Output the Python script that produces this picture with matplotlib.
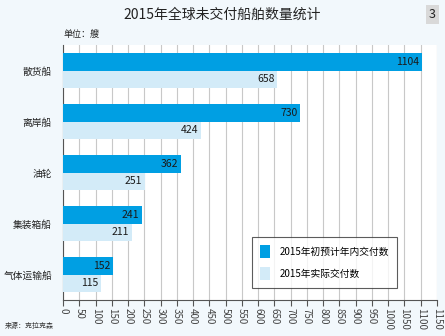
import matplotlib
matplotlib.use("Agg")
import matplotlib.pyplot as plt
import numpy as np

plt.rcParams['font.family'] = ['Noto Sans CJK SC', 'DejaVu Sans']

categories = ["散货船", "离岸船", "油轮", "集装箱船", "气体运输船"]
planned = [1104, 730, 362, 241, 152]
actual = [658, 424, 251, 211, 115]
series_names = ["2015年初预计年内交付数", "2015年实际交付数"]
xticks = list(range(0, 1151, 50))

DARK = "#009fe3"
LIGHT = "#d3ebf8"
BG = "#f2f8fc"

fig = plt.figure(figsize=(4.45, 3.36), dpi=100, facecolor=BG)
ax = fig.add_axes([0.142, 0.107, 0.84, 0.759])
ax.set_facecolor("white")

y = np.arange(len(categories))
h = 0.35
b1 = ax.barh(y - h / 2, planned, height=h, color=DARK, label=series_names[0], zorder=3)
b2 = ax.barh(y + h / 2, actual, height=h, color=LIGHT, label=series_names[1], zorder=3)

# value labels sit inside the bar ends
for bars, vals in [(b1, planned), (b2, actual)]:
    for rect, v in zip(bars, vals):
        ax.text(v - 8, rect.get_y() + rect.get_height() / 2, str(v),
                ha="right", va="center", fontsize=7.5, color="#1a1a1a", zorder=4)

ax.set_xlim(0, 1150)
ax.set_ylim(len(categories) - 0.5, -0.5)
ax.set_xticks(xticks)
ax.set_xticklabels([str(t) for t in xticks], rotation=-90, fontsize=7, color="#444444")
ax.set_yticks(y)
ax.set_yticklabels(categories, fontsize=7, color="#222222")
ax.tick_params(axis="y", length=0, pad=8)
ax.tick_params(axis="x", length=4, color="#555555", pad=2)
ax.grid(axis="x", color="#c8c8c8", linewidth=0.8, zorder=0)

for s in ["top", "right"]:
    ax.spines[s].set_visible(False)
ax.spines["left"].set_color("#555555")
ax.spines["bottom"].set_color("#555555")

leg = ax.legend(loc="lower right", bbox_to_anchor=(0.905, 0.03), fontsize=7,
                frameon=True, fancybox=False, edgecolor="#333333",
                handlelength=1.0, handleheight=1.6, labelspacing=1.0,
                borderpad=0.8, handletextpad=1.0)
leg.get_frame().set_linewidth(0.8)
leg.set_zorder(5)

fig.text(0.5, 0.955, "2015年全球未交付船舶数量统计", ha="center", va="center",
         fontsize=10, color="#222222")
fig.text(0.972, 0.957, "3", ha="center", va="center", fontsize=9, color="#222222",
         bbox=dict(boxstyle="square,pad=0.25", facecolor="#d9d9d9", edgecolor="none"))
fig.text(0.142, 0.898, "单位：艘", ha="left", va="center", fontsize=6.5, color="#222222")
fig.text(0.01, 0.03, "来源：克拉克森", ha="left", va="center", fontsize=5, color="#333333")

fig.savefig("out.png", dpi=100, facecolor=BG)
